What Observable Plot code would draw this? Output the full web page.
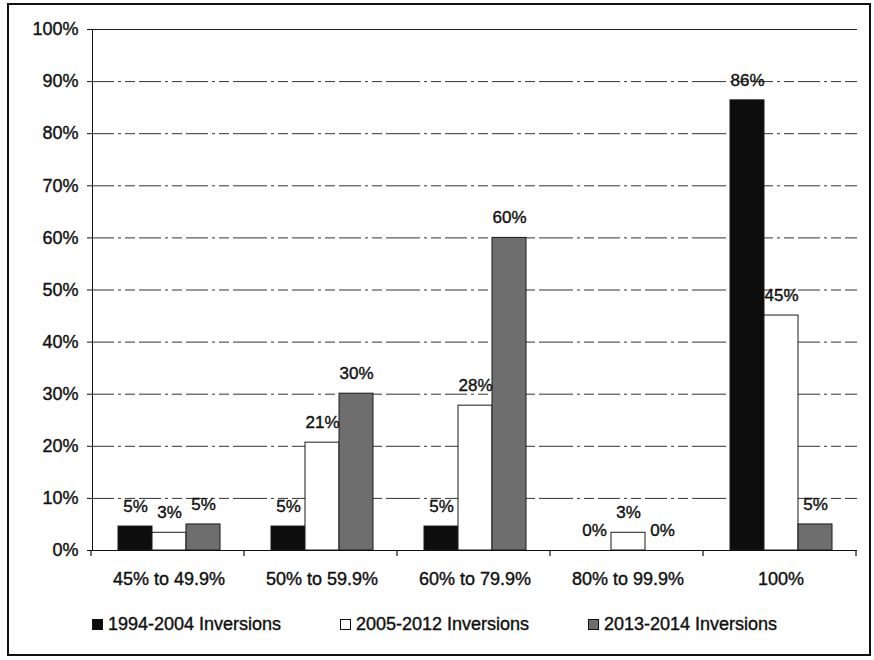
<!DOCTYPE html>
<html>
<head>
<meta charset="utf-8">
<script src="https://cdn.jsdelivr.net/npm/d3@7"></script>
<script src="https://cdn.jsdelivr.net/npm/@observablehq/plot@0.6"></script>
<style>
  html, body { margin: 0; padding: 0; background: #fff; }
  body { width: 874px; height: 660px; position: relative; overflow: hidden; font-family: "Liberation Sans", Arial, sans-serif; color: #111; }
  #frame { position: absolute; left: 7px; top: 3px; width: 864px; height: 653px; border: 2px solid #111; box-sizing: border-box; pointer-events: none; }
  #chart { position: absolute; left: 0; top: 0; }
  #chart svg text { stroke: #111; stroke-width: 0.4px; }
  #legend { position: absolute; left: 92px; top: 614px; display: flex; font-size: 18px; -webkit-text-stroke: 0.4px #111; }
  .item { width: 248px; display: flex; align-items: center; gap: 5px; white-space: nowrap; }
  .sw { width: 11px; height: 11px; box-sizing: border-box; border: 1px solid #111; }
</style>
</head>
<body>
<div id="chart"></div>
<div id="legend"></div>
<div id="frame"></div>
<script>
const categories = ["45% to 49.9%", "50% to 59.9%", "60% to 79.9%", "80% to 99.9%", "100%"];
const series = ["1994-2004 Inversions", "2005-2012 Inversions", "2013-2014 Inversions"];
const values1994 = [4.6, 4.6, 4.6, 0, 86.4];
const values2005 = [3.4, 20.7, 27.8, 3.4, 45.1];
const values2013 = [5.0, 30.1, 60.0, 0, 5.0];
const yTicks = [0, 10, 20, 30, 40, 50, 60, 70, 80, 90, 100];
const seriesColors = ["#0d0d0d", "#ffffff", "#6e6e6e"];

const seriesValues = [values1994, values2005, values2013];
const data = categories.flatMap((c, i) =>
  series.map((s, j) => ({category: c, series: s, value: seriesValues[j][i]}))
);

const chart = Plot.plot({
  width: 874,
  height: 600,
  marginTop: 29,
  marginBottom: 50,
  marginLeft: 91,
  marginRight: 17,
  style: {fontFamily: "'Liberation Sans', Arial, sans-serif", fontSize: "18px", color: "#111", background: "transparent"},
  fx: {domain: categories, padding: 0, label: null, axis: "bottom", tickSize: 0, tickPadding: 22},
  x: {domain: series, paddingInner: 0, paddingOuter: 0.75, axis: null},
  y: {domain: [0, 100], ticks: yTicks, tickFormat: d => d + "%", label: null, tickSize: 5, tickPadding: 9, line: true},
  color: {domain: series, range: seriesColors},
  marks: [
    Plot.ruleY(yTicks.filter(d => d > 0 && d < 100), {stroke: "#333", strokeWidth: 1, strokeDasharray: "22,4,3,4,10,4"}),
    Plot.ruleY([100], {stroke: "#222", strokeWidth: 1.2}),
    Plot.barY(data, {fx: "category", x: "series", y: "value", fill: "series", stroke: "#1a1a1a", strokeWidth: 1}),
    Plot.ruleY([0], {stroke: "#111", strokeWidth: 1.2}),
    Plot.text(data, {fx: "category", x: "series", y: "value", text: d => Math.round(d.value) + "%", dy: -20, fontSize: 17, fill: "#111"})
  ]
});
document.getElementById("chart").appendChild(chart);

// category boundary tick marks on the x axis, from the fx scale
const fx = chart.scale("fx");
const yScale = chart.scale("y");
const svg = d3.select(chart.tagName.toLowerCase() === "svg" ? chart : chart.querySelector("svg"));
const y0 = yScale.apply(0);
const bounds = d3.range(categories.length + 1).map(i => fx.range[0] + i * fx.step);
svg.append("g").selectAll("line").data(bounds).join("line")
  .attr("x1", d => d).attr("x2", d => d)
  .attr("y1", y0).attr("y2", y0 + 6)
  .attr("stroke", "#111").attr("stroke-width", 1.2);

// legend
const legend = d3.select("#legend");
series.forEach((s, i) => {
  const item = legend.append("div").attr("class", "item");
  item.append("div").attr("class", "sw").style("background", seriesColors[i]);
  item.append("span").text(s);
});
</script>
</body>
</html>
